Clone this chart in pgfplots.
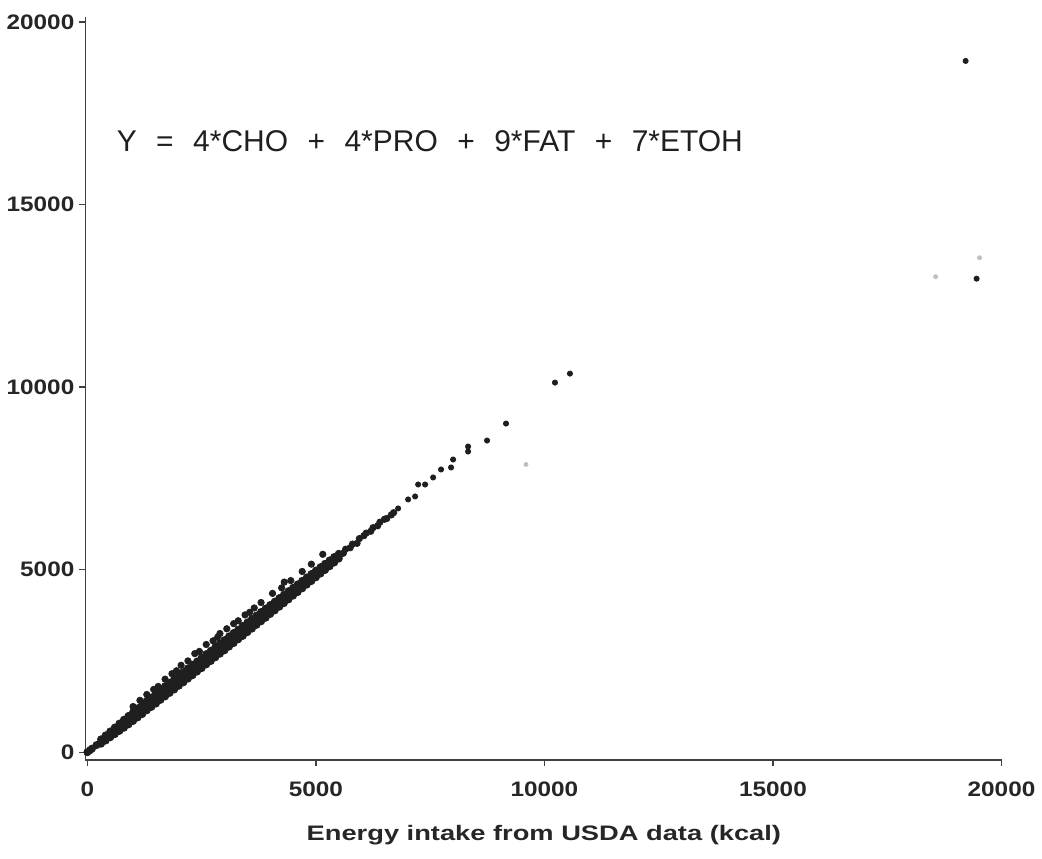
\documentclass[border=0pt]{standalone}
\usepackage{pgfplots}
\pgfplotsset{compat=1.18}
\usepackage{fontspec}
\setmainfont{Liberation Sans}
\newfontfamily\tickfont[FakeStretch=1.16]{Liberation Sans}
\newfontfamily\labfont[FakeStretch=1.3]{Liberation Sans}
\begin{document}
\begin{tikzpicture}
\begin{axis}[
  scale only axis, width=459pt, height=372pt,
  xmin=-44, xmax=20020, ymin=-219, ymax=20137,
  axis x line*=bottom, axis y line*=left,
  axis line style={draw=black!75, line width=0.7pt},
  xtick={0,5000,10000,15000,20000}, ytick={0,5000,10000,15000,20000},
  xticklabels={0,5000,10000,15000,20000},
  yticklabels={0,5000,10000,15000,20000},
  scaled ticks=false,
  tick align=outside, major tick length=3pt,
  tick style={draw=black!75, line width=0.6pt},
  xticklabel style={font=\tickfont\bfseries\fontsize{10.5}{12}\selectfont, text=black!85, yshift=-4.5pt},
  yticklabel style={font=\tickfont\bfseries\fontsize{10.5}{12}\selectfont, text=black!85, xshift=1pt},
  xlabel={Energy intake from USDA data (kcal)},
  xlabel style={font=\labfont\bfseries\fontsize{10.5}{12}\selectfont, text=black!85, yshift=-7.5pt},
]
% dense band: centre
\addplot[only marks, mark=*, mark size=1.8pt, color=black!88] coordinates {
(0,0)(60,55)(100,98)(200,195)(300,293)(400,390)(500,488)(600,585)(700,683)(800,780)(900,878)
(1000,975)(1100,1073)(1200,1170)(1300,1268)(1400,1365)(1500,1463)(1600,1560)(1700,1658)(1800,1755)(1900,1853)
(2000,1950)(2100,2048)(2200,2145)(2300,2243)(2400,2340)(2500,2438)(2600,2535)(2700,2633)(2800,2730)(2900,2828)
(3000,2925)(3100,3023)(3200,3120)(3300,3218)(3400,3315)(3500,3413)(3600,3510)(3700,3608)(3800,3705)(3900,3803)
(4000,3900)(4100,3998)(4200,4095)(4300,4193)(4400,4290)(4500,4388)(4600,4485)(4700,4583)(4800,4680)(4900,4778)
(5000,4875)(5100,4973)(5200,5070)(5300,5168)(5400,5265)(5500,5363)
};
% dense band: lower edge
\addplot[only marks, mark=*, mark size=1.8pt, color=black!88] coordinates {
(300,233)(400,320)(500,408)(600,495)(700,583)(800,670)(900,763)(1000,855)(1100,953)(1200,1045)
(1300,1148)(1400,1240)(1500,1333)(1600,1435)(1700,1528)(1800,1625)(1900,1718)(2000,1820)(2100,1913)(2200,2015)
(2300,2108)(2400,2210)(2500,2303)(2600,2405)(2700,2498)(2800,2600)(2900,2698)(3000,2790)(3100,2893)(3200,2990)
(3300,3093)(3400,3185)(3500,3288)(3600,3385)(3700,3488)(3800,3585)(3900,3683)(4000,3785)(4100,3883)(4200,3985)
(4300,4083)(4400,4185)(4500,4288)(4600,4385)(4700,4488)(4800,4590)(4900,4688)(5000,4790)(5100,4893)(5200,4990)
(5300,5093)(5400,5195)(5500,5303)
};
% dense band: upper edge
\addplot[only marks, mark=*, mark size=1.8pt, color=black!88] coordinates {
(300,353)(400,460)(500,568)(600,675)(700,783)(800,890)(900,993)(1000,1095)(1100,1203)(1200,1300)
(1300,1408)(1400,1500)(1500,1608)(1600,1700)(1700,1808)(1800,1900)(1900,2003)(2000,2100)(2100,2193)(2200,2295)
(2300,2393)(2400,2485)(2500,2588)(2600,2685)(2700,2778)(2800,2880)(2900,2978)(3000,3070)(3100,3173)(3200,3265)
(3300,3358)(3400,3460)(3500,3553)(3600,3650)(3700,3743)(3800,3840)(3900,3933)(4000,4030)(4100,4123)(4200,4220)
(4300,4313)(4400,4410)(4500,4503)(4600,4595)(4700,4693)(4800,4785)(4900,4878)(5000,4975)(5100,5068)(5200,5160)
(5300,5253)(5400,5345)(5500,5433)
};
% scattered points above the band
\addplot[only marks, mark=*, mark size=1.6pt, color=black!88] coordinates {
(1000,1250)(1150,1420)(1300,1580)(1450,1720)(1550,1800)(1700,2000)(1850,2150)(1950,2230)(2050,2380)(2200,2500)(2350,2700)(2450,2760)
(2600,2950)(2750,3050)(2850,3150)(2900,3250)(3050,3380)(3200,3520)(3300,3600)(3450,3760)(3550,3830)(3650,3950)(3800,4100)(4050,4350)
(4250,4500)(4307,4659)(4450,4700)(4700,4950)(4900,5150)(5150,5420)
};
% thinner part of the band
\addplot[only marks, mark=*, mark size=1.6pt, color=black!88] coordinates {
(5600,5450)(5650,5560)(5750,5600)(5800,5700)(5900,5720)(5950,5850)(6050,5930)(6100,6000)(6200,6050)(6250,6150)
(6350,6200)(6400,6300)(6500,6380)(6550,6400)(6650,6500)(6700,6560)
};
% sparse upper tail
\addplot[only marks, mark=*, mark size=1.3pt, color=black!88] coordinates {
(6798,6676)(7017,6922)(7170,7004)(7236,7332)(7389,7332)(7564,7524)(7738,7743)(7957,7798)(8001,8016)
(8329,8235)(8329,8372)(8744,8536)(9159,9001)(10230,10123)(10558,10369)
(19215,18933)(19455,12969)
};
% faint points
\addplot[only marks, mark=*, mark size=1pt, color=black!25] coordinates {
(9597,7880)(18559,13023)(19520,13543)
};
\node[anchor=base west, inner sep=0pt, font=\fontsize{15}{18}\selectfont, text=black!88]
  at (axis cs:634,16443)
  {Y\hspace{0.65em}=\hspace{0.65em}4*CHO\hspace{0.65em}+\hspace{0.65em}4*PRO\hspace{0.65em}+\hspace{0.65em}9*FAT\hspace{0.65em}+\hspace{0.65em}7*ETOH};
\end{axis}
\path ([yshift=8.5pt]current axis.north);
\path ([yshift=-3pt]current axis.below south);
\end{tikzpicture}
\end{document}
